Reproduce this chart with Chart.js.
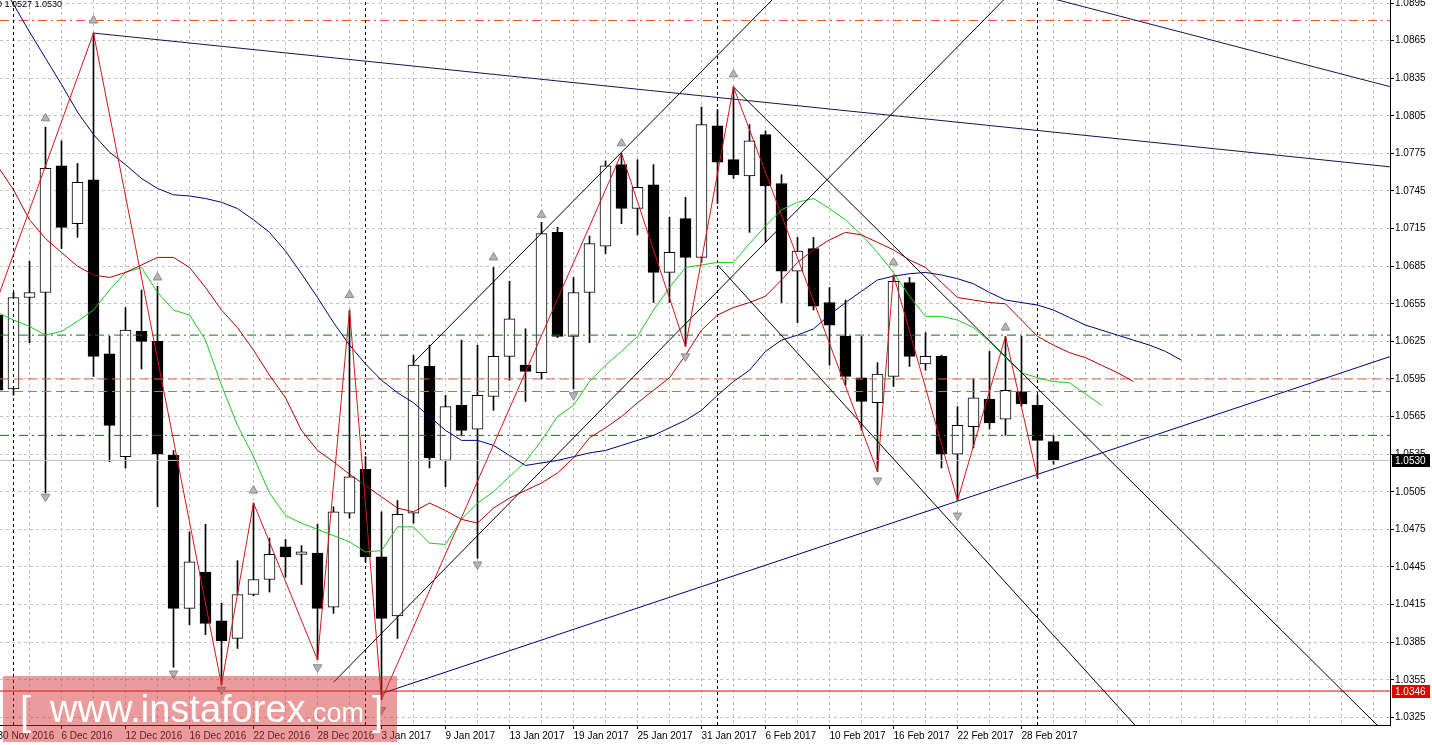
<!DOCTYPE html>
<html>
<head>
<meta charset="utf-8">
<title>EURUSD Daily</title>
<script src="https://cdn.jsdelivr.net/npm/chart.js@4.4.1/dist/chart.umd.min.js"></script>
<style>
  html, body { margin: 0; padding: 0; background: #fff; overflow: hidden; }
  #wrap { width: 1432px; height: 745px; }
</style>
</head>
<body>
<div id="wrap"><canvas id="chart" width="1432" height="745"></canvas></div>
<script>
// bar index 0 = 1 Dec 2016, the first (cut) bar is 30 Nov 2016
const FIRST_BAR = -1;

// daily candles, bar -1 .. 65
const opens  = [1.0646, 1.0587, 1.0660, 1.0664, 1.0765, 1.0719, 1.0754, 1.0615, 1.0533, 1.0633, 1.0625, 1.0534, 1.0412, 1.0441, 1.0402, 1.0388, 1.0423, 1.0435, 1.0461, 1.0455, 1.0456, 1.0413, 1.0488, 1.0523, 1.0453, 1.0406, 1.0488, 1.0605, 1.0530, 1.0574, 1.0555, 1.0581, 1.0613, 1.0606, 1.0600, 1.0712, 1.0629, 1.0664, 1.0701, 1.0766, 1.0731, 1.0750, 1.0680, 1.0723, 1.0692, 1.0797, 1.0770, 1.0757, 1.0790, 1.0751, 1.0681, 1.0699, 1.0656, 1.0629, 1.0596, 1.0576, 1.0597, 1.0672, 1.0607, 1.0613, 1.0535, 1.0557, 1.0579, 1.0563, 1.0585, 1.0574, 1.0545];
const highs  = [1.0658, 1.0664, 1.0689, 1.0796, 1.0785, 1.0767, 1.0871, 1.0629, 1.0652, 1.0666, 1.0669, 1.0538, 1.0473, 1.0479, 1.0416, 1.0450, 1.0496, 1.0468, 1.0467, 1.0462, 1.0479, 1.0493, 1.0650, 1.0533, 1.0489, 1.0498, 1.0614, 1.0622, 1.0582, 1.0626, 1.0622, 1.0684, 1.0673, 1.0635, 1.0720, 1.0716, 1.0676, 1.0709, 1.0769, 1.0775, 1.0770, 1.0766, 1.0724, 1.0740, 1.0812, 1.0810, 1.0828, 1.0798, 1.0793, 1.0758, 1.0708, 1.0708, 1.0668, 1.0658, 1.0629, 1.0608, 1.0678, 1.0676, 1.0632, 1.0614, 1.0573, 1.0595, 1.0617, 1.0629, 1.0629, 1.0582, 1.0550];
const lows   = [1.0582, 1.0582, 1.0624, 1.0504, 1.0699, 1.0708, 1.0597, 1.0529, 1.0524, 1.0603, 1.0493, 1.0365, 1.0399, 1.0391, 1.0351, 1.0380, 1.0422, 1.0425, 1.0437, 1.0431, 1.0371, 1.0408, 1.0484, 1.0449, 1.0339, 1.0388, 1.0480, 1.0524, 1.0509, 1.0550, 1.0452, 1.0570, 1.0594, 1.0577, 1.0595, 1.0628, 1.0587, 1.0624, 1.0695, 1.0719, 1.0710, 1.0656, 1.0656, 1.0621, 1.0688, 1.0735, 1.0755, 1.0712, 1.0704, 1.0656, 1.0640, 1.0650, 1.0606, 1.0590, 1.0554, 1.0521, 1.0589, 1.0605, 1.0602, 1.0524, 1.0498, 1.0540, 1.0555, 1.0550, 1.0573, 1.0516, 1.0527];
const closes = [1.0586, 1.0660, 1.0664, 1.0763, 1.0716, 1.0752, 1.0613, 1.0558, 1.0634, 1.0625, 1.0535, 1.0412, 1.0449, 1.0400, 1.0386, 1.0423, 1.0435, 1.0455, 1.0453, 1.0457, 1.0412, 1.0489, 1.0517, 1.0453, 1.0404, 1.0487, 1.0606, 1.0532, 1.0573, 1.0554, 1.0582, 1.0613, 1.0643, 1.0601, 1.0711, 1.0629, 1.0664, 1.0703, 1.0765, 1.0731, 1.0748, 1.0680, 1.0696, 1.0692, 1.0798, 1.0768, 1.0758, 1.0785, 1.0749, 1.0681, 1.0697, 1.0653, 1.0638, 1.0597, 1.0577, 1.0599, 1.0673, 1.0613, 1.0613, 1.0535, 1.0558, 1.0580, 1.0560, 1.0586, 1.0575, 1.0546, 1.0530];

// moving averages (shifted forward), all start at FIRST_BAR
const greenMA = [1.0648, 1.0642, 1.0637, 1.0630, 1.0633, 1.0641, 1.0650, 1.0666, 1.0680, 1.0684, 1.0664, 1.0650, 1.0646, 1.0626, 1.0590, 1.0558, 1.0533, 1.0504, 1.0486, 1.0480, 1.0475, 1.0470, 1.0465, 1.0457, 1.0458, 1.0477, 1.0477, 1.0464, 1.0463, 1.0483, 1.0496, 1.0505, 1.0517, 1.0529, 1.0546, 1.0565, 1.0574, 1.0593, 1.0606, 1.0617, 1.0629, 1.0650, 1.0668, 1.0684, 1.0686, 1.0688, 1.0688, 1.0703, 1.0717, 1.0730, 1.0736, 1.0739, 1.0731, 1.0722, 1.0710, 1.0696, 1.0680, 1.0661, 1.0645, 1.0645, 1.0642, 1.0636, 1.0625, 1.0612, 1.0600, 1.0596, 1.0593, 1.0592, 1.0583, 1.0574];
const redMA   = [1.0765, 1.0746, 1.0722, 1.0707, 1.0696, 1.0685, 1.0678, 1.0676, 1.0680, 1.0686, 1.0692, 1.0692, 1.0684, 1.0668, 1.0650, 1.0636, 1.0618, 1.0598, 1.0580, 1.0554, 1.0538, 1.0529, 1.0519, 1.0510, 1.0501, 1.0492, 1.0489, 1.0496, 1.0490, 1.0483, 1.0480, 1.0492, 1.0500, 1.0506, 1.0512, 1.0520, 1.0532, 1.0548, 1.0556, 1.0565, 1.0576, 1.0586, 1.0596, 1.0614, 1.0634, 1.0646, 1.0652, 1.0656, 1.0661, 1.0674, 1.0688, 1.0698, 1.0706, 1.0712, 1.0710, 1.0704, 1.0698, 1.0690, 1.0684, 1.0672, 1.0660, 1.0658, 1.0656, 1.0655, 1.0642, 1.0629, 1.0622, 1.0616, 1.0612, 1.0606, 1.0600, 1.0593];
const blueMA  = [1.0915, 1.0894, 1.0872, 1.0851, 1.0830, 1.0808, 1.0790, 1.0776, 1.0766, 1.0755, 1.0747, 1.0742, 1.0741, 1.0739, 1.0736, 1.0731, 1.0722, 1.0712, 1.0697, 1.0679, 1.0660, 1.0640, 1.0622, 1.0607, 1.0594, 1.0584, 1.0576, 1.0565, 1.0554, 1.0546, 1.0546, 1.0542, 1.0534, 1.0526, 1.0528, 1.0530, 1.0533, 1.0536, 1.0538, 1.0542, 1.0546, 1.0550, 1.0556, 1.0562, 1.0570, 1.0582, 1.0593, 1.0602, 1.0617, 1.0626, 1.0630, 1.0635, 1.0646, 1.0656, 1.0665, 1.0674, 1.0677, 1.0679, 1.0680, 1.0678, 1.0675, 1.0671, 1.0664, 1.0658, 1.0656, 1.0654, 1.0650, 1.0644, 1.0638, 1.0634, 1.0630, 1.0626, 1.0622, 1.0617, 1.0610];

// zigzag turning points [bar, price]
const zigzag = [[-5, 1.0518], [5, 1.0871], [13, 1.0351], [15, 1.0496], [19, 1.0371], [21, 1.0650], [23, 1.0339], [38, 1.0775], [42, 1.0621], [45, 1.0828], [54, 1.0521], [55, 1.0678], [59, 1.0498], [62, 1.0629], [64, 1.0516]];

// fractal arrows
const fractalUpBars = [2, 5, 9, 15, 21, 30, 33, 38, 45, 55, 62];
const fractalUpPrices = [1.0803, 1.0881, 1.0676, 1.0506, 1.0662, 1.0692, 1.0726, 1.0783, 1.0838, 1.0688, 1.0636];
const fractalDownBars = [2, 10, 13, 19, 23, 29, 35, 42, 54, 59];
const fractalDownPrices = [1.0501, 1.0360, 1.0347, 1.0365, 1.0331, 1.0447, 1.0582, 1.0613, 1.0514, 1.0486];

// trend lines [bar, price]
const lineFromDecHigh = [[5, 1.0871], [87, 1.0763]];
const lineTopRight = [[60, 1.0915], [87, 1.0825]];
const channelUpTop = [[25, 1.0608], [48, 1.0905]];
const channelUpBottom = [[20, 1.0353], [63, 1.0912]];
const channelDownTop = [[45, 1.0828], [86, 1.0309]];
const channelDownBottom = [[44, 1.0686], [71, 1.0306]];
const supportLine = [[23, 1.0344], [87, 1.0617]];

// horizontal levels
const redDashDotLevels = [1.0881];
const greenDashDotLevels = [1.0630, 1.0550];
const redDashLevels = [1.0595, 1.0585];
const bidPrice = 1.0530;
const lowLevel = 1.0346;

// month separators
const separatorBars = [0, 22, 44, 64];

// axes
const yTickValues = [1.0325, 1.0355, 1.0385, 1.0415, 1.0445, 1.0475, 1.0505, 1.0535, 1.0565, 1.0595, 1.0625, 1.0655, 1.0685, 1.0715, 1.0745, 1.0775, 1.0805, 1.0835, 1.0865, 1.0895];
const labelBars = [-1, 3, 7, 11, 15, 19, 23, 27, 31, 35, 39, 43, 47, 51, 55, 59, 63];
const labelTexts = ['30 Nov 2016', '6 Dec 2016', '12 Dec 2016', '16 Dec 2016', '22 Dec 2016', '28 Dec 2016', '3 Jan 2017', '9 Jan 2017', '13 Jan 2017', '19 Jan 2017', '25 Jan 2017', '31 Jan 2017', '6 Feb 2017', '10 Feb 2017', '16 Feb 2017', '22 Feb 2017', '28 Feb 2017'];
const headerText = 'EURUSD,Daily  1.0545 1.0550 1.0527 1.0530';

const X_MIN = -0.84375, X_MAX = 86.03125;
const Y_MIN = 1.03189, Y_MAX = 1.08974;
const FONT = 'Liberation Sans, Arial, sans-serif';

const gridBars = [];
for (let b = -1; b <= 85; b += 2) gridBars.push(b);

const barIdx = opens.map((_, i) => FIRST_BAR + i);
const series = arr => arr.map((v, i) => ({ x: FIRST_BAR + i, y: v }));
const pts = arr => arr.map(p => ({ x: p[0], y: p[1] }));
const hline = v => [{ x: X_MIN, y: v }, { x: X_MAX, y: v }];

function lineSet(data, color, dash, order) {
  return { type: 'line', data, borderColor: color, borderWidth: 1, borderDash: dash || [], pointRadius: 0, tension: 0, fill: false, order: order || 0 };
}

const datasets = [];

// candles
datasets.push({
  type: 'bar', data: barIdx.map((b, i) => ({ x: b, y: [lows[i], highs[i]] })),
  backgroundColor: '#000', barThickness: 1, grouped: false, order: 21
});
datasets.push({
  type: 'bar', data: barIdx.map((b, i) => ({ x: b, y: [opens[i], closes[i]] })),
  backgroundColor: barIdx.map((b, i) => closes[i] >= opens[i] ? '#ffffff' : '#000000'),
  borderColor: '#000', borderWidth: 1, borderSkipped: false, barThickness: 11, grouped: false, order: 20
});

// levels
redDashDotLevels.forEach(v => datasets.push(lineSet(hline(v), '#e8502e', [9, 4, 2, 4], 5)));
greenDashDotLevels.forEach(v => datasets.push(lineSet(hline(v), '#1a6e1a', [9, 4, 2, 4], 5)));
redDashLevels.forEach(v => datasets.push(lineSet(hline(v), '#e8603c', [9, 5], 5)));
datasets.push(lineSet(hline(bidPrice), '#c0c0c0', [], 6));
datasets.push(lineSet(hline(lowLevel), '#e00000', [], 5));

// separators
separatorBars.forEach(b => datasets.push(lineSet([{ x: b, y: Y_MIN }, { x: b, y: Y_MAX }], '#000', [3, 3], 4)));

// moving averages
datasets.push(lineSet(series(blueMA), '#00007a', [], 3));
datasets.push(lineSet(series(redMA), '#b00000', [], 3));
datasets.push(lineSet(series(greenMA), '#22c422', [], 3));

// trend lines
datasets.push(lineSet(pts(lineFromDecHigh), '#14145a', [], 2));
datasets.push(lineSet(pts(lineTopRight), '#14145a', [], 2));
datasets.push(lineSet(pts(channelUpTop), '#000', [], 2));
datasets.push(lineSet(pts(channelUpBottom), '#000', [], 2));
datasets.push(lineSet(pts(channelDownTop), '#000', [], 2));
datasets.push(lineSet(pts(channelDownBottom), '#000', [], 2));
datasets.push(lineSet(pts(supportLine), '#00007a', [], 2));

// zigzag
datasets.push(lineSet(pts(zigzag), '#d01818', [], 1));

// fractals
datasets.push({
  type: 'line', showLine: false, order: 0,
  data: fractalUpBars.map((b, i) => ({ x: b, y: fractalUpPrices[i] })),
  pointStyle: 'triangle', pointRadius: 5, rotation: 0,
  pointBackgroundColor: '#b4b4b4', pointBorderColor: '#8a8a8a', pointBorderWidth: 1
});
datasets.push({
  type: 'line', showLine: false, order: 0,
  data: fractalDownBars.map((b, i) => ({ x: b, y: fractalDownPrices[i] })),
  pointStyle: 'triangle', pointRadius: 5, rotation: 180,
  pointBackgroundColor: '#b4b4b4', pointBorderColor: '#8a8a8a', pointBorderWidth: 1
});

// header, price tags and watermark
const overlay = {
  id: 'overlay',
  afterDraw(chart) {
    const ctx = chart.ctx;
    const y = chart.scales.y;
    ctx.save();

    ctx.font = '9px ' + FONT;
    ctx.fillStyle = '#000';
    ctx.textAlign = 'right';
    ctx.textBaseline = 'top';
    ctx.fillText(headerText, 62, 0);

    ctx.font = '10px ' + FONT;
    const tag = (v, bg) => {
      const py = Math.round(y.getPixelForValue(v));
      ctx.fillStyle = bg;
      ctx.fillRect(1392, py - 6, 38, 13);
      ctx.fillStyle = '#fff';
      ctx.textAlign = 'left';
      ctx.textBaseline = 'middle';
      ctx.fillText(v.toFixed(4), 1395, py + 1);
    };
    tag(bidPrice, '#000');
    tag(lowLevel, '#e00000');

    ctx.fillStyle = 'rgba(212, 48, 48, 0.48)';
    ctx.fillRect(3, 676, 394, 66);
    ctx.fillStyle = '#fff';
    ctx.textAlign = 'left';
    ctx.textBaseline = 'alphabetic';
    ctx.font = '40px ' + FONT;
    ctx.fillText('[', 20, 725);
    ctx.font = '38px ' + FONT;
    ctx.fillText('www.instaforex', 50, 722);
    let x = 50 + ctx.measureText('www.instaforex').width;
    ctx.font = '27px ' + FONT;
    ctx.fillText('.com', x, 722);
    x += ctx.measureText('.com').width + 8;
    ctx.font = '40px ' + FONT;
    ctx.fillText(']', x, 725);
    ctx.restore();
  }
};

new Chart(document.getElementById('chart'), {
  type: 'line',
  data: { datasets },
  options: {
    responsive: false,
    animation: false,
    devicePixelRatio: 1,
    events: [],
    layout: { padding: 0, autoPadding: false },
    plugins: { legend: { display: false }, tooltip: { enabled: false } },
    scales: {
      x: {
        type: 'linear', position: 'bottom', min: X_MIN, max: X_MAX, offset: false,
        grid: {
          color: '#c4c4c4', offset: false, tickLength: 4,
          tickColor: c => (c.tick && labelBars.includes(c.tick.value)) ? '#000' : 'rgba(0,0,0,0)'
        },
        border: { display: true, color: '#000', width: 1, dash: [3, 3] },
        ticks: {
          autoSkip: false, maxRotation: 0, minRotation: 0, align: 'start', labelOffset: 0, padding: 1,
          color: '#000', font: { family: FONT, size: 10 },
          callback: v => { const i = labelBars.indexOf(v); return i >= 0 ? labelTexts[i] : ''; }
        },
        afterBuildTicks: s => { s.ticks = gridBars.map(v => ({ value: v })); },
        afterFit: s => { s.height = 20; s.paddingLeft = 0; s.paddingRight = 0; }
      },
      y: {
        type: 'linear', position: 'right', min: Y_MIN, max: Y_MAX, beginAtZero: false,
        grid: { color: '#c4c4c4', tickLength: 4, tickColor: '#000' },
        border: { display: true, color: '#000', width: 1, dash: [3, 3] },
        ticks: { color: '#000', padding: 1, font: { family: FONT, size: 10 }, callback: v => v.toFixed(4) },
        afterBuildTicks: s => { s.ticks = yTickValues.map(v => ({ value: v })); },
        afterFit: s => { s.width = 42; s.paddingTop = 0; s.paddingBottom = 0; }
      }
    }
  },
  plugins: [overlay]
});
</script>
</body>
</html>
